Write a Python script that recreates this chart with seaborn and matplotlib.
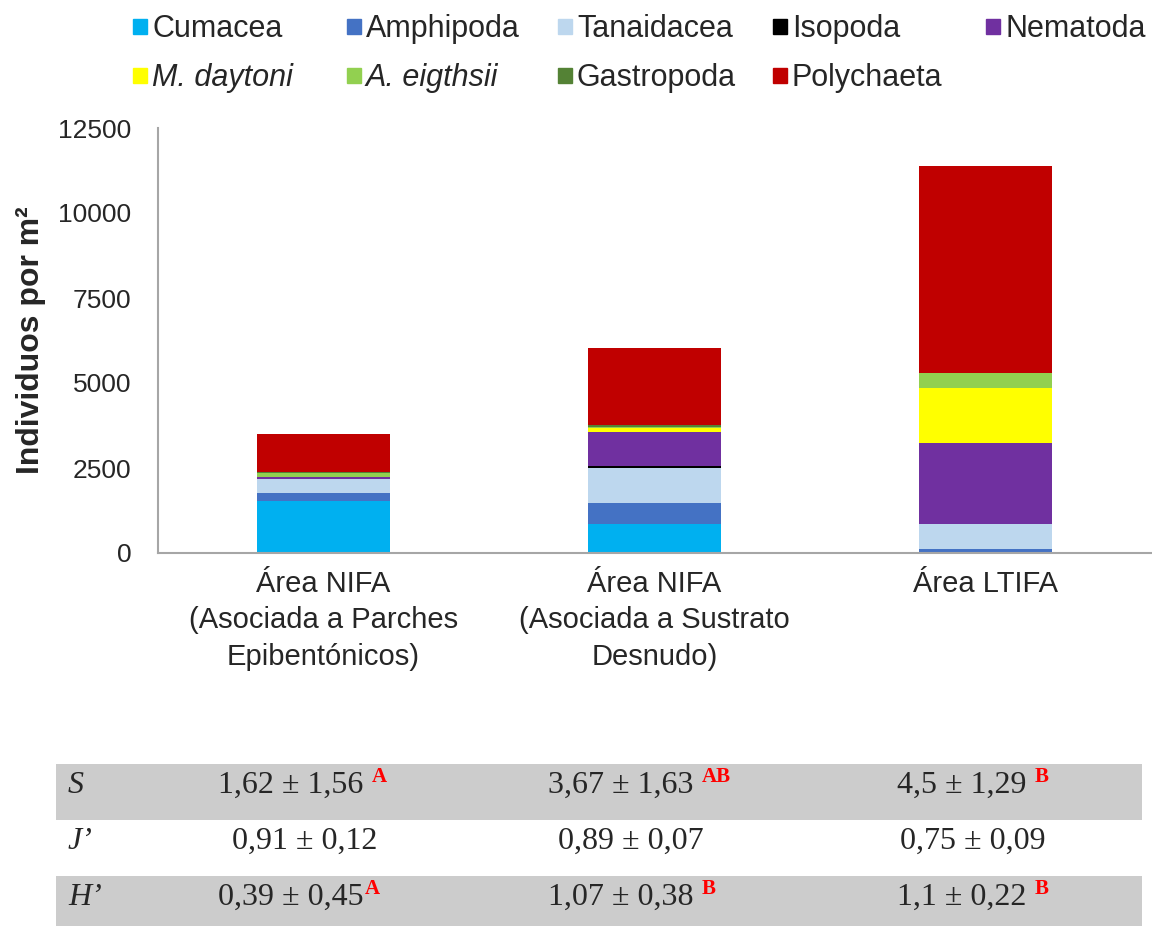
import matplotlib
matplotlib.use("Agg")
import matplotlib.pyplot as plt
import pandas as pd
import seaborn as sns
from matplotlib.patches import Rectangle

# ---- data -------------------------------------------------------------
zones = [
    "Área NIFA\n(Asociada a Parches\nEpibentónicos)",
    "Área NIFA\n(Asociada a Sustrato\nDesnudo)",
    "Área LTIFA",
]
taxa = ["Cumacea", "Amphipoda", "Tanaidacea", "Isopoda", "Nematoda",
        "M. daytoni", "A. eigthsii", "Gastropoda", "Polychaeta"]
italic_taxa = ["M. daytoni", "A. eigthsii"]

cumacea = [1530, 850, 0]
amphipoda = [235, 630, 130]
tanaidacea = [420, 1010, 735]
isopoda = [0, 80, 0]
nematoda = [50, 990, 2360]
m_daytoni = [0, 125, 1640]
a_eigthsii = [110, 30, 440]
gastropoda = [40, 50, 0]
polychaeta = [1115, 2255, 6070]

taxa_colors = ["#00B0F0", "#4472C4", "#BDD7EE", "#000000", "#7030A0",
               "#FFFF00", "#92D050", "#548235", "#C00000"]

y_ticks = [0, 2500, 5000, 7500, 10000, 12500]
y_label = "Individuos por m²"

metric_labels = ["S", "J’", "H’"]
s_values = ["1,62 ± 1,56", "3,67 ± 1,63", "4,5 ± 1,29"]
s_letters = ["A", "AB", "B"]
j_values = ["0,91 ± 0,12", "0,89 ± 0,07", "0,75 ± 0,09"]
j_letters = ["", "", ""]
h_values = ["0,39 ± 0,45", "1,07 ± 0,38", "1,1 ± 0,22"]
h_letters = ["A", "B", "B"]

# ---- build long-form table of stacked tops ----------------------------
series = [cumacea, amphipoda, tanaidacea, isopoda, nematoda,
          m_daytoni, a_eigthsii, gastropoda, polychaeta]
rows = []
running = [0, 0, 0]
for name, vals in zip(taxa, series):
    running = [r + v for r, v in zip(running, vals)]
    for z, top in zip(zones, running):
        rows.append({"zona": z, "taxon": name, "top": top})
df = pd.DataFrame(rows)

# ---- figure -----------------------------------------------------------
sns.set_style("white")
plt.rcParams["font.family"] = ["Liberation Sans", "DejaVu Sans"]

W, H = 1152, 926
fig = plt.figure(figsize=(W / 100, H / 100), dpi=100)
ax = fig.add_axes([158 / W, 1 - 553 / H, (1151 - 158) / W, 425 / H])

# Draw cumulative tops from the tallest down so each layer shows its share
for name, color in reversed(list(zip(taxa, taxa_colors))):
    sub = df[df["taxon"] == name]
    sns.barplot(data=sub, x="zona", y="top", order=zones, color=color,
                saturation=1, width=0.4, errorbar=None, linewidth=0,
                ax=ax)

ax.set_ylim(0, 12500)
ax.set_yticks(y_ticks)
ax.set_yticklabels([str(t) for t in y_ticks], fontsize=19)
ax.tick_params(axis="y", length=0, pad=19)
ax.tick_params(axis="x", length=0, pad=12, labelsize=21)
for lbl in ax.get_xticklabels():
    lbl.set_linespacing(1.4)
ax.set_xlabel("")
ax.set_ylabel(y_label, fontsize=23, fontweight="bold")
ax.yaxis.set_label_coords(-0.113, 0.5)
for side in ["top", "right"]:
    ax.spines[side].set_visible(False)
for side in ["left", "bottom"]:
    ax.spines[side].set_color("#A6A6A6")
    ax.spines[side].set_linewidth(1.5)

# ---- overlay in pixel coordinates for legend and index table ----------
ov = fig.add_axes([0, 0, 1, 1])
ov.set_xlim(0, W)
ov.set_ylim(H, 0)
ov.axis("off")

legend_slots = [(152, 37), (366, 37), (577, 37), (792, 37), (1005, 37),
                (152, 86), (366, 86), (577, 86), (792, 86)]
for name, color, (tx, ty) in zip(taxa, taxa_colors, legend_slots):
    ov.add_patch(Rectangle((tx - 19, ty - 18), 14, 15, color=color))
    ov.text(tx, ty, name, fontsize=22, va="baseline", ha="left",
            style="italic" if name in italic_taxa else "normal")

# index table
ov.add_patch(Rectangle((56, 764), 1142 - 56, 56, color="#CCCCCC", lw=0))
ov.add_patch(Rectangle((56, 876), 1142 - 56, 50, color="#CCCCCC", lw=0))

serif = ["Liberation Serif", "DejaVu Serif"]
row_baselines = [793, 849, 905]
col_lefts = [[218, 548, 897], [232, 558, 900], [218, 548, 897]]
letter_gaps = [[8, 8, 8], [0, 0, 0], [1, 8, 8]]
table_rows = [(s_values, s_letters), (j_values, j_letters), (h_values, h_letters)]

for r, (label, (vals, letters)) in enumerate(zip(metric_labels, table_rows)):
    yb = row_baselines[r]
    ov.text(68, yb, label, family=serif, style="italic", fontsize=23,
            va="baseline", ha="left")
    for c, (v, letter) in enumerate(zip(vals, letters)):
        t = ov.text(col_lefts[r][c], yb, v, family=serif, fontsize=23,
                    va="baseline", ha="left")
        if letter:
            ov.annotate(letter, xy=(1, 1), xycoords=t,
                        xytext=(letter_gaps[r][c], 4), textcoords="offset pixels",
                        family=serif, fontsize=15, fontweight="bold",
                        color="#FF0000", ha="left", va="top")

fig.savefig("out.png", dpi=100)
